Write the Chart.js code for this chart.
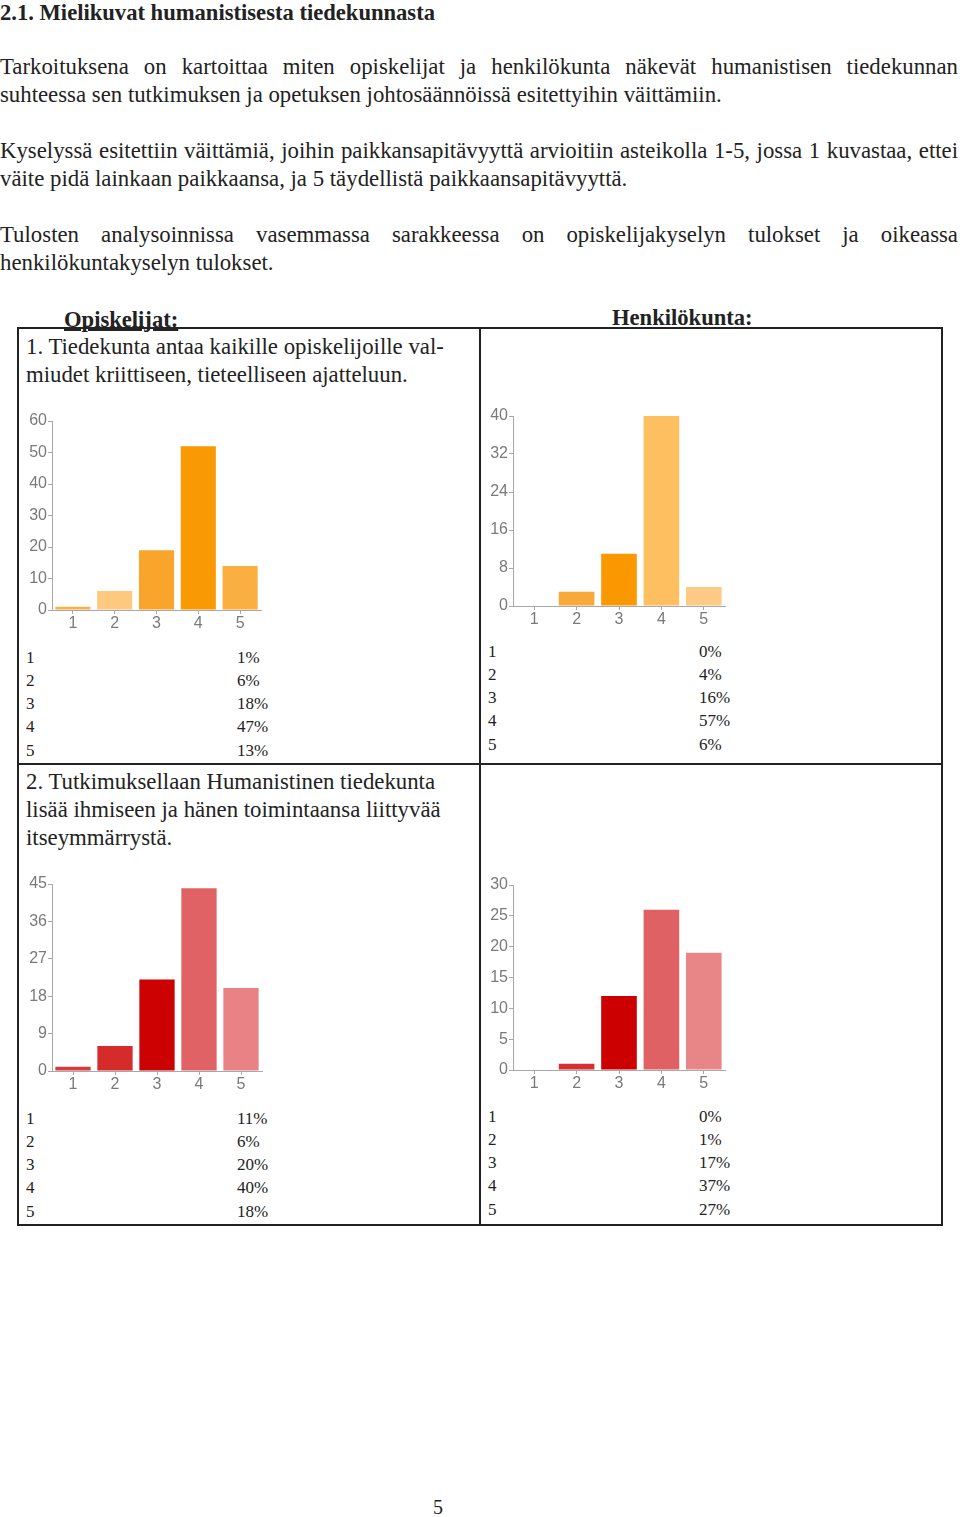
<!DOCTYPE html>
<html lang="fi">
<head>
<meta charset="utf-8">
<script src="https://cdn.jsdelivr.net/npm/chart.js@4.4.0/dist/chart.umd.min.js"></script>
<style>
  body { margin: 0; background: #fff; }
  #sivu { position: relative; width: 960px; height: 1517px; overflow: hidden;
          font-family: "Liberation Serif", "DejaVu Serif", serif; color: #222; }
  .abs { position: absolute; }
  .teksti { font-size: 22.8px; line-height: 28px; white-space: nowrap; }
  .rivi-tasattu { width: 958px; text-align: justify; text-align-last: justify; }
  .otsikko { font-weight: bold; font-size: 22.6px; line-height: 28px; white-space: nowrap; }
  .rivi { position: absolute; font-size: 17px; line-height: 23px; }
  canvas { position: absolute; }
</style>
</head>
<body>
<div id="sivu">
  <div class="abs otsikko" style="left:0; top:2px; line-height:22px;">2.1. Mielikuvat humanistisesta tiedekunnasta</div>

  <div class="abs teksti rivi-tasattu" style="left:0; top:53px;">Tarkoituksena on kartoittaa miten opiskelijat ja henkilökunta näkevät humanistisen tiedekunnan</div>
  <div class="abs teksti" style="left:0; top:81px;">suhteessa sen tutkimuksen ja opetuksen johtosäännöissä esitettyihin väittämiin.</div>

  <div class="abs teksti rivi-tasattu" style="left:0; top:137px;">Kyselyssä esitettiin väittämiä, joihin paikkansapitävyyttä arvioitiin asteikolla 1-5, jossa 1 kuvastaa, ettei</div>
  <div class="abs teksti" style="left:0; top:165px;">väite pidä lainkaan paikkaansa, ja 5 täydellistä paikkaansapitävyyttä.</div>

  <div class="abs teksti rivi-tasattu" style="left:0; top:221px;">Tulosten analysoinnissa vasemmassa sarakkeessa on opiskelijakyselyn tulokset ja oikeassa</div>
  <div class="abs teksti" style="left:0; top:249px;">henkilökuntakyselyn tulokset.</div>

  <!-- taulukon viivat -->
  <div class="abs" style="left:17px; top:327px; width:922px; height:895px; border:2px solid #222;"></div>
  <div class="abs" style="left:479px; top:327px; width:2px; height:899px; background:#222;"></div>
  <div class="abs" style="left:17px; top:763px; width:925px; height:2px; background:#222;"></div>

  <div class="abs otsikko" style="left:64px; top:306px; text-decoration:underline;">Opiskelijat:</div>
  <div class="abs otsikko" style="left:612px; top:304px; text-decoration:underline;">Henkilökunta:</div>

  <div class="abs teksti" style="left:26px; top:333px;">1. Tiedekunta antaa kaikille opiskelijoille val-<br>miudet kriittiseen, tieteelliseen ajatteluun.</div>
  <div class="abs teksti" style="left:26px; top:768px;">2. Tutkimuksellaan Humanistinen tiedekunta<br>lisää ihmiseen ja hänen toimintaansa liittyvää<br>itseymmärrystä.</div>

  <canvas id="k1"></canvas>
  <canvas id="k2"></canvas>
  <canvas id="k3"></canvas>
  <canvas id="k4"></canvas>

  <div id="taulut"></div>

  <div class="abs" style="left:433px; top:1498px; font-size:20px; line-height:18px;">5</div>
</div>

<script>
// vastausvaihtoehdot 1-5
const vaihtoehdot = ["1", "2", "3", "4", "5"];

// 1. väite: vastaajamäärät
const opiskelijat1 = [1, 6, 19, 52, 14];
const henkilokunta1 = [0, 3, 11, 40, 4];
// 2. väite: vastaajamäärät
const opiskelijat2 = [1, 6, 22, 44, 20];
const henkilokunta2 = [0, 1, 12, 26, 19];

// prosenttiosuudet taulukoissa
const prosentit1o = ["1%", "6%", "18%", "47%", "13%"];
const prosentit1h = ["0%", "4%", "16%", "57%", "6%"];
const prosentit2o = ["11%", "6%", "20%", "40%", "18%"];
const prosentit2h = ["0%", "1%", "17%", "37%", "27%"];

// y-akselien maksimit ja välit
const ymax = [60, 40, 45, 30];
const yvali = [10, 8, 9, 5];

const oranssit1 = ["#f9b14a", "#fdc97f", "#f9a52c", "#f99a05", "#fbaf40"];
const oranssit2 = ["#f9a93a", "#f9a93a", "#f99800", "#fdbf60", "#fdcb86"];
const punaiset1 = ["#d93a3c", "#d62b2b", "#cc0202", "#e06264", "#e88284"];
const punaiset2 = ["#d63030", "#d63030", "#cc0000", "#e06163", "#e88587"];

const AKSELI_LEV = 40;
const AKSELI_KORK = 26;

function piirraKaavio(id, arvot, varit, maksimi, vali, akseliX, ylaY, nollaY, oikeaX) {
  const el = document.getElementById(id);
  const vasen = akseliX - AKSELI_LEV;
  const yla = ylaY - 12;
  const lev = oikeaX - vasen + 6;
  const kork = nollaY - yla + AKSELI_KORK;
  el.style.left = vasen + "px";
  el.style.top = yla + "px";
  el.width = lev;
  el.height = kork;

  const harmaa = "#a8a8a8";
  const fontti = { family: "Liberation Sans, Arial, sans-serif", size: 16 };

  new Chart(el, {
    type: "bar",
    data: {
      labels: vaihtoehdot,
      datasets: [{ data: arvot, backgroundColor: varit, borderWidth: 0,
                   barPercentage: 0.84, categoryPercentage: 1 }]
    },
    options: {
      responsive: false,
      animation: false,
      devicePixelRatio: 1,
      layout: { padding: { top: 12, right: 6, left: 0, bottom: 0 } },
      plugins: { legend: { display: false }, tooltip: { enabled: false } },
      scales: {
        x: {
          grid: { display: true, drawOnChartArea: false, offset: false, tickLength: 4, color: harmaa },
          border: { display: true, color: harmaa, width: 1 },
          ticks: { color: "#7a7a7a", font: fontti, padding: 0 },
          afterFit: s => { s.height = AKSELI_KORK; }
        },
        y: {
          min: 0, max: maksimi,
          grid: { display: true, drawOnChartArea: false, tickLength: 4, color: harmaa },
          border: { display: true, color: harmaa, width: 1 },
          ticks: { stepSize: vali, color: "#7a7a7a", font: fontti, padding: 1 },
          afterFit: s => { s.width = AKSELI_LEV; }
        }
      }
    }
  });
}

piirraKaavio("k1", opiskelijat1, oranssit1, ymax[0], yvali[0], 52, 421, 610, 261);
piirraKaavio("k2", henkilokunta1, oranssit2, ymax[1], yvali[1], 513, 416, 606, 725);
piirraKaavio("k3", opiskelijat2, punaiset1, ymax[2], yvali[2], 52, 884, 1071, 262);
piirraKaavio("k4", henkilokunta2, punaiset2, ymax[3], yvali[3], 513, 885, 1070, 725);

// prosenttitaulukot kaavioiden alle
function taulukko(prosentit, x, y) {
  const kohde = document.getElementById("taulut");
  vaihtoehdot.forEach((v, i) => {
    const yy = y + i * 23.3 - 11.5;
    const a = document.createElement("div");
    a.className = "rivi";
    a.style.left = x + "px";
    a.style.top = yy + "px";
    a.textContent = v;
    kohde.appendChild(a);
    const b = document.createElement("div");
    b.className = "rivi";
    b.style.left = (x + 211) + "px";
    b.style.top = yy + "px";
    b.textContent = prosentit[i];
    kohde.appendChild(b);
  });
}

taulukko(prosentit1o, 26, 657);
taulukko(prosentit1h, 488, 651);
taulukko(prosentit2o, 26, 1118);
taulukko(prosentit2h, 488, 1116);
</script>
</body>
</html>
